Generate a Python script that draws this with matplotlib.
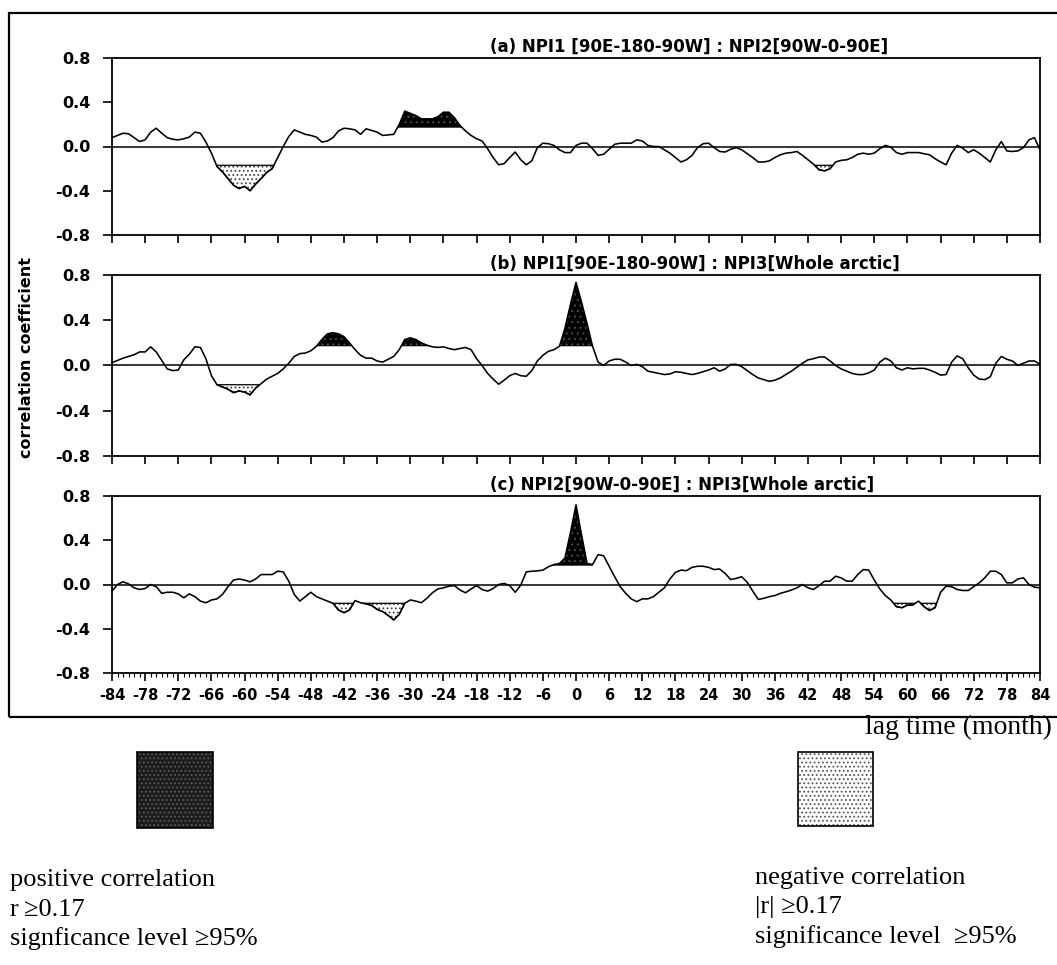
import matplotlib
matplotlib.use("Agg")
import matplotlib.pyplot as plt
import numpy as np
from matplotlib.patches import Rectangle

# ---------------- data ----------------
LAGS = list(range(-84, 85))

R_A = [0.08, 0.10, 0.12, 0.115, 0.08, 0.045, 0.06, 0.13, 0.165, 0.12, 0.08, 0.065,
       0.06, 0.07, 0.085, 0.13, 0.12, 0.04, -0.06, -0.18, -0.23, -0.29, -0.35, -0.38,
       -0.36, -0.40, -0.34, -0.29, -0.235, -0.20, -0.10, 0.00, 0.09, 0.15, 0.13, 0.11,
       0.10, 0.085, 0.04, 0.05, 0.08, 0.14, 0.165, 0.16, 0.15, 0.11, 0.16, 0.145,
       0.13, 0.10, 0.105, 0.11, 0.20, 0.32, 0.30, 0.28, 0.25, 0.25, 0.25, 0.27,
       0.31, 0.31, 0.26, 0.19, 0.14, 0.10, 0.07, 0.05, -0.02, -0.10, -0.165, -0.155,
       -0.10, -0.05, -0.12, -0.165, -0.13, -0.01, 0.03, 0.025, 0.01, -0.03, -0.055, -0.055,
       0.01, 0.03, 0.03, -0.02, -0.08, -0.07, -0.025, 0.02, 0.03, 0.03, 0.03, 0.06,
       0.05, 0.01, 0.0, 0.0, -0.03, -0.06, -0.10, -0.14, -0.12, -0.08, -0.01, 0.025,
       0.03, -0.01, -0.045, -0.05, -0.025, -0.01, -0.03, -0.065, -0.10, -0.14, -0.14, -0.13,
       -0.10, -0.075, -0.06, -0.055, -0.045, -0.08, -0.12, -0.16, -0.21, -0.22, -0.20, -0.14,
       -0.125, -0.12, -0.10, -0.07, -0.06, -0.07, -0.06, -0.02, 0.01, -0.005, -0.055, -0.07,
       -0.055, -0.055, -0.055, -0.065, -0.075, -0.11, -0.14, -0.165, -0.06, 0.01, -0.015, -0.055,
       -0.03, -0.06, -0.10, -0.14, -0.03, 0.045, -0.04, -0.045, -0.04, -0.01, 0.06, 0.08, -0.03]

R_B = [0.025, 0.045, 0.065, 0.08, 0.095, 0.12, 0.12, 0.165, 0.12, 0.045, -0.03, -0.045,
       -0.04, 0.05, 0.10, 0.165, 0.16, 0.06, -0.09, -0.17, -0.19, -0.21, -0.24, -0.225,
       -0.235, -0.26, -0.20, -0.16, -0.12, -0.095, -0.07, -0.03, 0.02, 0.08, 0.105, 0.11,
       0.13, 0.17, 0.23, 0.28, 0.29, 0.28, 0.255, 0.20, 0.14, 0.09, 0.065, 0.065,
       0.04, 0.03, 0.055, 0.08, 0.14, 0.23, 0.245, 0.23, 0.20, 0.18, 0.165, 0.16,
       0.165, 0.15, 0.14, 0.15, 0.16, 0.14, 0.06, 0.0, -0.07, -0.12, -0.165, -0.13,
       -0.09, -0.07, -0.09, -0.095, -0.045, 0.04, 0.09, 0.125, 0.14, 0.17, 0.33, 0.54,
       0.735, 0.56, 0.37, 0.17, 0.03, 0.0, 0.04, 0.055, 0.055, 0.03, 0.0, 0.01,
       -0.01, -0.05, -0.06, -0.07, -0.08, -0.075, -0.055, -0.06, -0.07, -0.08, -0.07, -0.055,
       -0.04, -0.02, -0.05, -0.03, 0.01, 0.01, -0.01, -0.045, -0.08, -0.11, -0.125, -0.14,
       -0.13, -0.11, -0.08, -0.05, -0.015, 0.02, 0.05, 0.06, 0.075, 0.075, 0.04, 0.0,
       -0.03, -0.05, -0.07, -0.08, -0.08, -0.065, -0.04, 0.03, 0.065, 0.04, -0.02, -0.04,
       -0.02, -0.03, -0.025, -0.025, -0.04, -0.06, -0.085, -0.08, 0.03, 0.085, 0.06, -0.02,
       -0.085, -0.12, -0.125, -0.10, 0.02, 0.08, 0.055, 0.04, 0.0, 0.02, 0.04, 0.04, 0.01]

R_C = [-0.06, 0.0, 0.025, 0.005, -0.03, -0.045, -0.036, 0.0, -0.02, -0.08, -0.07, -0.07,
       -0.085, -0.12, -0.085, -0.11, -0.15, -0.165, -0.14, -0.13, -0.09, -0.02, 0.04, 0.05,
       0.04, 0.024, 0.05, 0.09, 0.09, 0.09, 0.12, 0.114, 0.03, -0.09, -0.15, -0.11,
       -0.07, -0.11, -0.13, -0.15, -0.17, -0.23, -0.255, -0.23, -0.145, -0.165, -0.175, -0.19,
       -0.225, -0.245, -0.28, -0.32, -0.27, -0.17, -0.14, -0.15, -0.165, -0.125, -0.075, -0.04,
       -0.03, -0.015, -0.01, -0.05, -0.075, -0.04, -0.01, -0.045, -0.06, -0.036, 0.0, 0.01,
       -0.01, -0.07, -0.006, 0.114, 0.12, 0.123, 0.13, 0.16, 0.18, 0.19, 0.24, 0.47,
       0.72, 0.45, 0.19, 0.18, 0.27, 0.26, 0.165, 0.07, -0.02, -0.08, -0.13, -0.155,
       -0.13, -0.13, -0.11, -0.07, -0.03, 0.05, 0.11, 0.13, 0.125, 0.155, 0.165, 0.165,
       0.155, 0.135, 0.14, 0.10, 0.045, 0.055, 0.07, 0.02, -0.06, -0.135, -0.125, -0.11,
       -0.10, -0.08, -0.066, -0.05, -0.03, 0.0, -0.03, -0.045, -0.01, 0.03, 0.03, 0.075,
       0.06, 0.03, 0.03, 0.09, 0.135, 0.13, 0.04, -0.04, -0.10, -0.14, -0.20, -0.21,
       -0.187, -0.185, -0.15, -0.20, -0.235, -0.21, -0.07, -0.015, -0.02, -0.045, -0.054, -0.054,
       -0.02, 0.015, 0.06, 0.12, 0.12, 0.09, 0.015, 0.015, 0.05, 0.06, 0.0, -0.024, -0.03]

SERIES = [R_A, R_B, R_C]

# lag ranges that carry shading in the reference (positive / negative significance)
POS_SPANS = [[(-33, -20)],
             [(-48, -39), (-32, -25), (-4, 4)],
             [(-6, 3)]]
NEG_SPANS = [[(-66, -53), (42, 48)],
             [(-66, -56)],
             [(-45, -30), (57, 66)]]

TITLES = ["(a) NPI1 [90E-180-90W] : NPI2[90W-0-90E]",
          "(b) NPI1[90E-180-90W] : NPI3[Whole arctic]",
          "(c) NPI2[90W-0-90E] : NPI3[Whole arctic]"]
YTICKS = [-0.8, -0.4, 0.0, 0.4, 0.8]
YTICKLABELS = ["-0.8", "-0.4", "0.0", "0.4", "0.8"]
XTICKS = list(range(-84, 85, 6))
XTICKLABELS = [str(v) for v in XTICKS]
THRESH = 0.17

# ---------------- layout ----------------
W, H = 1057, 965
fig = plt.figure(figsize=(W / 100, H / 100), dpi=100)
plt.rcParams["hatch.linewidth"] = 0.8

SANS = "DejaVu Sans"
SERIF = ["Liberation Serif", "DejaVu Serif"]


def fx(px):
    return px / W


def fy(py):
    return 1 - py / H


def in_spans(x, spans):
    m = np.zeros_like(x, dtype=bool)
    for a, b in spans:
        m |= (x >= a) & (x <= b)
    return m


LEFT_PX, RIGHT_PX = 112, 1040
PANELS_PX = [(58, 235), (275, 456), (496, 673)]

for i, (top, bot) in enumerate(PANELS_PX):
    ax = fig.add_axes([fx(LEFT_PX), fy(bot), (RIGHT_PX - LEFT_PX) / W, (bot - top) / H])
    x = np.array(LAGS, dtype=float)
    y = np.array(SERIES[i], dtype=float)

    pos = (y >= THRESH) & in_spans(x, POS_SPANS[i])
    neg = (y <= -THRESH) & in_spans(x, NEG_SPANS[i])

    ax.fill_between(x, THRESH, y, where=pos, interpolate=True,
                    facecolor="black", edgecolor="#4a4a4a", hatch="...", linewidth=0, zorder=2)
    ax.fill_between(x, -THRESH, y, where=neg, interpolate=True,
                    facecolor="white", edgecolor="#444444", hatch="....", linewidth=0, zorder=2)
    ax.fill_between(x, -THRESH, y, where=neg, interpolate=True,
                    facecolor="none", edgecolor="black", linewidth=0.9, zorder=3)

    ax.axhline(0, color="black", lw=1.1, zorder=3)
    ax.plot(x, y, color="black", lw=1.15, zorder=4)

    ax.set_xlim(-84, 84)
    ax.set_ylim(-0.8, 0.8)
    for sp in ax.spines.values():
        sp.set_linewidth(1.3)

    ax.set_yticks(YTICKS)
    ax.set_yticklabels(YTICKLABELS, fontfamily=SANS, fontsize=11.5, fontweight="bold")
    ax.tick_params(axis="y", direction="out", length=6.5, width=1.2, pad=9)

    ax.set_xticks(XTICKS)
    ax.tick_params(axis="x", which="major", direction="out", length=5.5, width=1.2)
    if i == 2:
        ax.set_xticks(LAGS, minor=True)
        ax.tick_params(axis="x", which="minor", direction="out", length=3, width=0.8)
        ax.set_xticklabels(XTICKLABELS, fontfamily=SANS, fontsize=10.5, fontweight="bold")
        ax.tick_params(axis="x", which="major", pad=5)
    else:
        ax.tick_params(axis="x", labelbottom=False)

    ax.text((490 - LEFT_PX) / (RIGHT_PX - LEFT_PX), 1.0 + 2.0 / (bot - top), TITLES[i],
            transform=ax.transAxes, ha="left", va="bottom",
            fontfamily=SANS, fontsize=12, fontweight="bold")

# y axis label
fig.text(fx(27), fy(357), "correlation coefficient", rotation=90,
         ha="center", va="center", fontfamily=SANS, fontsize=11.5, fontweight="bold")

# outer frame
fig.patches.append(Rectangle((fx(9), fy(717)), fx(1070) - fx(9), fy(13) - fy(717),
                             transform=fig.transFigure, fill=False, lw=1.6,
                             edgecolor="black", clip_on=False))

fig.text(fx(1052), fy(727), "lag time (month)", ha="right", va="center",
         family=SERIF, fontsize=20)

# legend squares
fig.patches.append(Rectangle((fx(137), fy(828)), fx(213) - fx(137), fy(752) - fy(828),
                             transform=fig.transFigure, facecolor="#1c1c1c",
                             edgecolor="#5a5a5a", hatch="....", lw=0))
fig.patches.append(Rectangle((fx(137), fy(828)), fx(213) - fx(137), fy(752) - fy(828),
                             transform=fig.transFigure, fill=False, edgecolor="black", lw=1.2))
fig.patches.append(Rectangle((fx(798), fy(826)), fx(873) - fx(798), fy(752) - fy(826),
                             transform=fig.transFigure, facecolor="white",
                             edgecolor="#555555", hatch="....", lw=0))
fig.patches.append(Rectangle((fx(798), fy(826)), fx(873) - fx(798), fy(752) - fy(826),
                             transform=fig.transFigure, fill=False, edgecolor="black", lw=1.2))

LEFT_LINES = ["positive correlation", "r\u2009\u22650.17", "signficance level \u226595%"]
RIGHT_LINES = ["negative correlation", "|r| \u22650.17", "significance level  \u226595%"]
for k, t in enumerate(LEFT_LINES):
    fig.text(fx(10), fy(880 + 29.5 * k), t, ha="left", va="center", family=SERIF, fontsize=19)
for k, t in enumerate(RIGHT_LINES):
    fig.text(fx(755), fy(878 + 29.5 * k), t, ha="left", va="center", family=SERIF, fontsize=19)

fig.savefig("out.png", dpi=100, facecolor="white")
